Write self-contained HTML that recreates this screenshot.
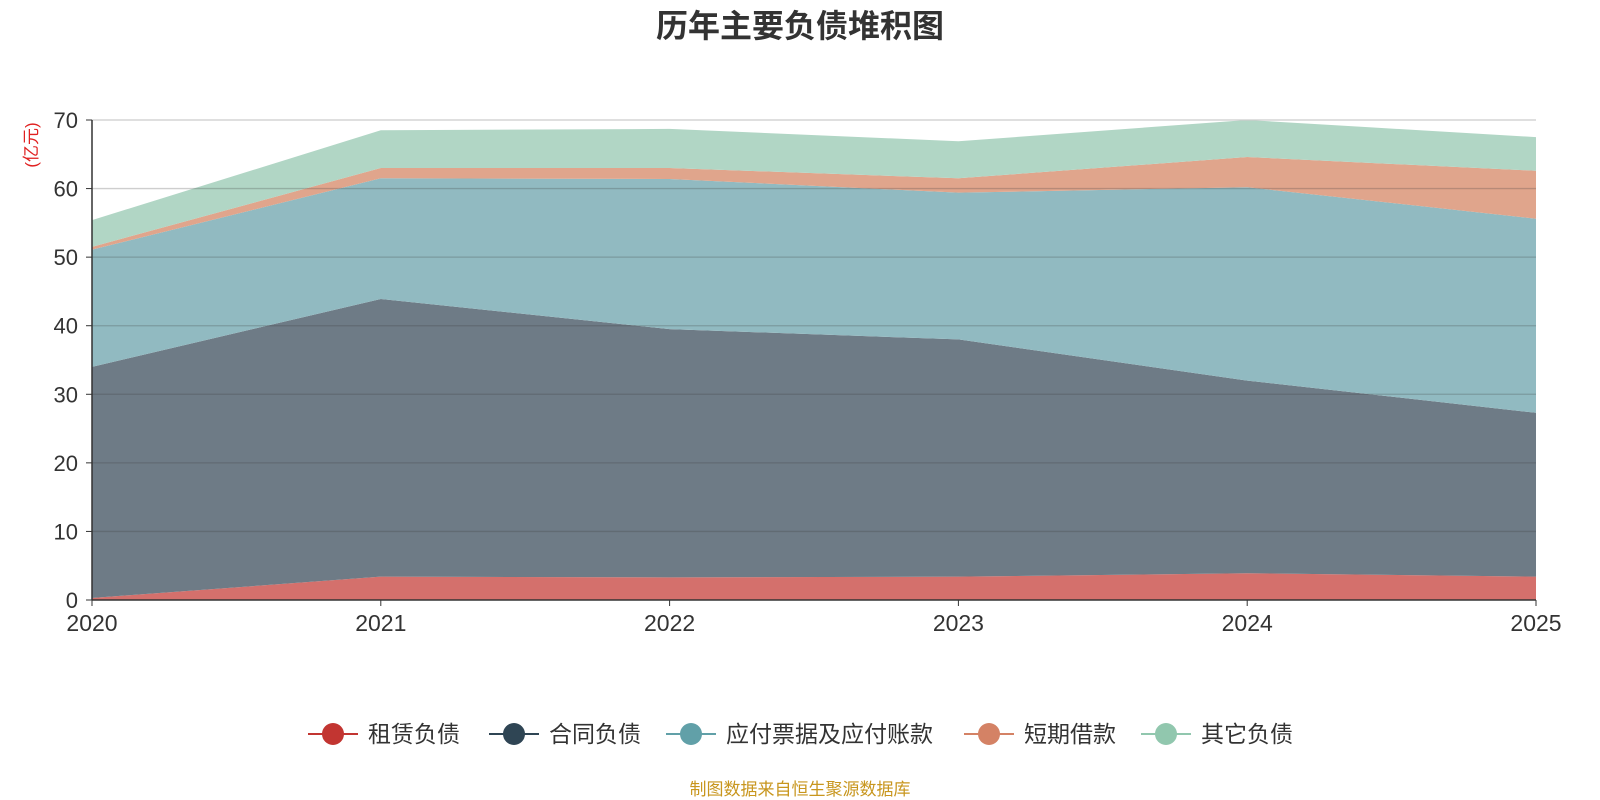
<!DOCTYPE html>
<html><head><meta charset="utf-8"><style>
html,body{margin:0;padding:0;background:#fff;width:1600px;height:800px;overflow:hidden}
svg text{font-family:"Liberation Sans","Noto Sans CJK SC",sans-serif}
</style></head><body>
<svg id="chart" width="1600" height="800" xmlns="http://www.w3.org/2000/svg">
<text x="800" y="37" text-anchor="middle" font-size="32" font-weight="bold" fill="#333">历年主要负债堆积图</text>
<text x="37" y="145" font-size="17" fill="#e02020" text-anchor="middle" transform="rotate(-90 37 145)">(亿元)</text>
<g id="areas"></g><g id="grid"></g><g id="axes"></g><g id="legend"></g>
<text x="800" y="795" text-anchor="middle" font-size="17" fill="#c8961e">制图数据来自恒生聚源数据库</text>
</svg>
<script>
const years=["2020","2021","2022","2023","2024","2025"];
const seriesNames=["租赁负债","合同负债","应付票据及应付账款","短期借款","其它负债"];
const lease=[0.3,3.4,3.3,3.4,3.9,3.4];
const contract=[33.7,40.5,36.2,34.6,28.1,23.9];
const payables=[17.1,17.6,21.9,21.4,28.2,28.3];
const shortLoan=[0.4,1.5,1.6,2.1,4.4,7.0];
const other=[3.9,5.5,5.7,5.4,5.4,4.9];
const yTicks=[0,10,20,30,40,50,60,70];
const NS="http://www.w3.org/2000/svg";
const x0=92,x1=1536,yb=600,yt=120,ymax=70;
const xs=i=>x0+(x1-x0)*i/(years.length-1);
const ys=v=>yb-(yb-yt)*v/ymax;
const fills=["#d4706c","#6e7b86","#91bac1","#e0a58c","#b1d6c5"];
const lineCols=["#c23531","#2f4554","#61a0a8","#d48265","#91c7ae"];
const all=[lease,contract,payables,shortLoan,other];
const mk=(t,a,p)=>{const e=document.createElementNS(NS,t);for(const k in a)e.setAttribute(k,a[k]);p.appendChild(e);return e;};
let base=years.map(()=>0);
const areas=document.getElementById('areas');
all.forEach((s,k)=>{
 const top=s.map((v,i)=>base[i]+v);
 let d=top.map((v,i)=>(i?'L':'M')+xs(i)+','+ys(v)).join(' ');
 for(let i=years.length-1;i>=0;i--)d+=' L'+xs(i)+','+ys(base[i]);
 const p=mk('path',{d:d+'Z',fill:fills[k]},areas);
 
 
 base=top;
});
const grid=document.getElementById('grid'),axes=document.getElementById('axes');
yTicks.forEach(t=>{
 if(t>0){const l=mk('line',{x1:x0,x2:x1,y1:ys(t),y2:ys(t),stroke:t==70?'#ccc':'rgba(60,60,60,0.25)','stroke-width':1.3},grid);
 }
 mk('line',{x1:x0-6,x2:x0,y1:ys(t),y2:ys(t),stroke:'#333'},axes);
 const tx=mk('text',{x:x0-14,y:ys(t)+8,'text-anchor':'end','font-size':22,fill:'#333'},axes);tx.textContent=t;
 
});
mk('line',{x1:x0,x2:x0,y1:yt,y2:yb,stroke:'#333','stroke-width':1.5},axes);
mk('line',{x1:x0,x2:x1,y1:yb,y2:yb,stroke:'#333','stroke-width':1.5},axes);
years.forEach((y,i)=>{
 mk('line',{x1:xs(i),x2:xs(i),y1:yb,y2:yb+6,stroke:'#333'},axes);
 const tx=mk('text',{x:xs(i),y:yb+31,'text-anchor':'middle','font-size':23,fill:'#333'},axes);tx.textContent=y;
 
});
const lg=document.getElementById('legend');
const widths=[181,177,298,177,160];
let lx=308;
seriesNames.forEach((n,k)=>{
 const g=mk('g',{},lg);
 
 mk('line',{x1:lx,x2:lx+50,y1:734,y2:734,stroke:lineCols[k],'stroke-width':2},g);
 mk('circle',{cx:lx+25,cy:734,r:11,fill:lineCols[k]},g);
 const t=mk('text',{x:lx+60,y:742,'font-size':23,fill:'#333'},g);t.textContent=n;
 lx+=widths[k];
});
</script>
</body></html>
